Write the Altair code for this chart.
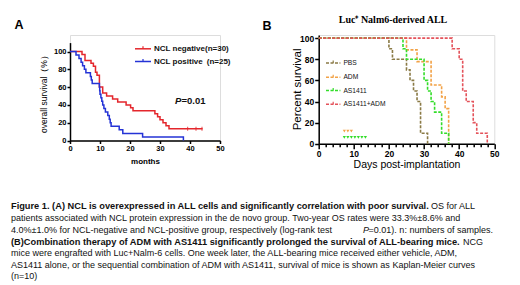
import altair as alt
import pandas as pd

FONT = "Liberation Sans"
SERIF = "Liberation Serif"

# ---------------- Panel A data (Kaplan-Meier, overall survival %) ----------------
neg_t = [0, 4, 5, 7, 7.8, 8.5, 9, 9.8, 10.9, 12.2, 14.2, 15.9, 18.7, 20.2, 21, 28.3, 29.2, 30, 31, 32, 33, 44.2]
neg_s = [100, 96.7, 90, 86.7, 83.3, 76.7, 73.3, 60, 53.3, 50, 46.7, 43.3, 40, 36.7, 33.3, 30, 26.7, 23.3, 20, 16.7, 13.3, 13.3]
pos_t = [0, 2, 3, 3.7, 4.2, 4.8, 5.3, 6.8, 7.1, 7.4, 9.8, 9.9, 10, 10.3, 10.6, 10.9, 11.3, 11.8, 12.6, 13.1, 13.4, 13.7, 16.4, 17.6, 24.2, 37.8]
pos_s = [100, 96, 92, 88, 84, 80, 76, 72, 68, 64, 60, 56, 52, 48, 44, 40, 36, 32, 28, 24, 20, 16, 12, 8, 4, 0]
neg_cens_t = [39.2, 42, 44]
neg_cens_s = [13.3, 13.3, 13.3]
groupsA = ["NCL negative", "NCL positive"]
labelsA = ["NCL negative(n=30)", "NCL positive\u2002(n=25)"]
colorsA = ["#e4262c", "#2433d6"]

# ---------------- Panel B data (percent survival) ----------------
pbs_t = [0, 20, 21, 25, 26, 27, 28, 29, 31]
pbs_s = [100, 90, 80, 70, 60, 50, 40, 10, 0]
adm_t = [0, 25, 28, 32, 35, 36, 37]
adm_s = [100, 88.9, 77.8, 55.6, 44.4, 33.3, 0]
as_t = [0, 24, 25, 30, 31, 32, 33, 35, 37]
as_s = [100, 90, 80, 60, 50, 40, 30, 10, 0]
combo_t = [0, 38, 40, 41, 42, 44, 45, 48]
combo_s = [100, 90, 80, 50, 40, 20, 10, 0]
adm_cens_t = [7.3, 8.3, 9.3]
adm_cens_s = [12, 12, 12]
as_cens_t = [7.3, 8.3, 9.3, 10.3, 11.3, 12.3, 13.3]
as_cens_s = [6, 6, 6, 6, 6, 6, 6]
groupsB = ["PBS", "ADM", "AS1411", "AS1411+ADM"]
colorsB = ["#8a7a45", "#f2a247", "#33dd2a", "#e4525a"]

title_B = "Luc\u207a Nalm6-derived ALL"
ytitle_B = "Percent survival"

caption_lines = [
    ("Figure 1. (A) NCL is overexpressed in ALL cells and significantly correlation with poor survival.", "OS for ALL"),
    "patients associated with NCL protein expression in the de novo group. Two-year OS rates were 33.3%\u00b18.6% and",
    ("4.0%\u00b11.0% for NCL-negative and NCL-positive group, respectively (log-rank test", "P", "=0.01). n: numbers of samples."),
    ("(B)Combination therapy of ADM with AS1411 significantly prolonged the survival of ALL-bearing mice.", "NCG"),
    "mice were engrafted  with Luc+Nalm-6 cells. One week later, the ALL-bearing mice received either vehicle, ADM,",
    "AS1411 alone, or the sequential combination of ADM with AS1411, survival of mice is shown as Kaplan-Meier curves",
    "(n=10)",
]

one = pd.DataFrame({"k": [0]})


def txt(x, y, s, size, weight="normal", style="normal", align="left", font=FONT, color="#111111", angle=0):
    return alt.Chart(one).mark_text(
        text=s, align=align, baseline="middle", fontSize=size, fontWeight=weight,
        fontStyle=style, font=font, color=color, angle=angle
    ).encode(x=alt.value(x), y=alt.value(y))


def legend_row(x0, x1, y, color, label, size, weight, dash=None, width=1.5):
    kw = dict(color=color, strokeWidth=width)
    if dash:
        kw["strokeDash"] = dash
    ln = alt.Chart(one).mark_rule(**kw).encode(x=alt.value(x0), x2=alt.value(x1), y=alt.value(y))
    xm = (x0 + x1) / 2
    tk = alt.Chart(one).mark_rule(color=color, strokeWidth=1.2).encode(
        x=alt.value(xm), y=alt.value(y - 2.5), y2=alt.value(y))
    tx = txt(x1 + 3, y, label, size, weight)
    return [ln, tk, tx]


# ---------------- Panel A ----------------
WA, HA, TOPA = 150, 105.5, 7.6
dfA = pd.DataFrame({
    "tA": neg_t + pos_t,
    "sA": neg_s + pos_s,
    "gA": [groupsA[0]] * len(neg_t) + [groupsA[1]] * len(pos_t),
})
dfAc = pd.DataFrame({"tA": neg_cens_t, "sA": neg_cens_s, "gA": [groupsA[0]] * len(neg_cens_t)})
colA = alt.Color("gA:N", scale=alt.Scale(domain=groupsA, range=colorsA), legend=None)
axA = dict(domainColor="black", domainWidth=1.5, tickColor="black", tickWidth=1.5, tickSize=3,
           labelFont=FONT, labelFontSize=7.5, labelFontWeight="bold", labelColor="black",
           labelPadding=1, grid=False, labelFlush=False, labelOverlap=False,
           titleFont=FONT, titleColor="black", titleBaseline="middle")
xA = alt.X("tA:Q", scale=alt.Scale(domain=[0, 50], nice=False),
           axis=alt.Axis(values=[0, 10, 20, 30, 40, 50], title="months", titleFontSize=8,
                         titleFontWeight="bold", titleY=21, **axA))
yA = alt.Y("sA:Q", scale=alt.Scale(domain=[0, 110], nice=False, range=[HA, TOPA]),
           axis=alt.Axis(values=[0, 20, 40, 60, 80, 100], title="overall survival\uff08%\uff09",
                         titleFontSize=8.5, titleFontWeight="normal", titleX=-27, **axA))
linesA = alt.Chart(dfA).mark_line(interpolate="step-after", strokeWidth=1.5).encode(x=xA, y=yA, color=colA)
censA = alt.Chart(dfAc).mark_tick(orient="vertical", size=4, thickness=1.2).encode(x=xA, y=yA, color=colA)

layersA = [linesA, censA]
layersA += legend_row(65, 81, 13.8, colorsA[0], labelsA[0], 8, "bold")
layersA += legend_row(65, 81, 26.5, colorsA[1], labelsA[1], 8, "bold")
layersA += [txt(105, 65.5, "P", 9.5, "bold", "italic"), txt(111.5, 65.5, "=0.01", 9.5, "bold")]
layersA += [txt(-51, -10, "A", 12.5, "bold", align="center", color="black")]

# caption (pixel positions relative to panel A group origin)
cx = -59
cy = [171, 182.5, 194.5, 206.5, 218, 229.5, 240.5]
CS, CB = 9, 9.25
layersA += [txt(cx, cy[0], caption_lines[0][0], CB, "bold"), txt(361, cy[0], caption_lines[0][1], CS)]
layersA += [txt(cx, cy[1], caption_lines[1], CS)]
layersA += [txt(cx, cy[2], caption_lines[2][0], CS), txt(293, cy[2], caption_lines[2][1], CS, style="italic"),
            txt(298.6, cy[2], caption_lines[2][2], CS)]
layersA += [txt(cx, cy[3], caption_lines[3][0], CB, "bold"), txt(393, cy[3], caption_lines[3][1], CS)]
layersA += [txt(cx, cy[4], caption_lines[4], CS)]
layersA += [txt(cx, cy[5], caption_lines[5], CS)]
layersA += [txt(cx, cy[6], caption_lines[6], CS)]

panelA = alt.layer(*layersA).properties(width=WA, height=HA)

# ---------------- Panel B ----------------
WB, HB = 175.6, 108.8
dfB = pd.DataFrame({
    "tB": pbs_t + adm_t + as_t + combo_t,
    "sB": pbs_s + adm_s + as_s + combo_s,
    "gB": [groupsB[0]] * len(pbs_t) + [groupsB[1]] * len(adm_t) + [groupsB[2]] * len(as_t) + [groupsB[3]] * len(combo_t),
})
dfBc = pd.DataFrame({
    "tB": adm_cens_t + as_cens_t,
    "sB": adm_cens_s + as_cens_s,
    "gB": [groupsB[1]] * len(adm_cens_t) + [groupsB[2]] * len(as_cens_t),
})
colB = alt.Color("gB:N", scale=alt.Scale(domain=groupsB, range=colorsB), legend=None)
axB = dict(domainColor="black", domainWidth=1.5, tickColor="black", tickWidth=1.5,
           labelFont=FONT, labelFontSize=8.5, labelFontWeight="bold", labelColor="black",
           labelPadding=1, grid=False, labelFlush=False, labelOverlap=False,
           titleFont=FONT, titleColor="black", titleBaseline="middle", titleFontWeight="normal")
xB = alt.X("tB:Q", scale=alt.Scale(domain=[0, 50], nice=False),
           axis=alt.Axis(values=list(range(0, 51, 2)),
                         labelExpr="datum.value % 10 === 0 ? datum.label : ''",
                         tickSize={"condition": {"test": "datum.value % 10 === 0", "value": 5}, "value": 3},
                         title="Days post-implantation", titleFontSize=10.5, titleY=21, **axB))
yB = alt.Y("sB:Q", scale=alt.Scale(domain=[0, 103], nice=False),
           axis=alt.Axis(values=[0, 20, 40, 60, 80, 100], tickSize=4, title=None, **axB))
linesB = alt.Chart(dfB).mark_line(interpolate="step-after", strokeWidth=1.6, strokeDash=[3, 1.5]).encode(
    x=xB, y=yB, color=colB)
censB = alt.Chart(dfBc).mark_point(shape="triangle-down", filled=True, size=10, opacity=1).encode(
    x=xB, y=yB, color=colB)

layersB = [linesB, censB]
for yy, c, lab in zip([28, 42.3, 55.5, 69.2], colorsB, groupsB):
    layersB += legend_row(7.3, 21.7, yy, c, lab, 6.7, "normal", dash=[3, 1.5])
layersB += [txt(74.3, -15.5, title_B, 10, "bold", font=SERIF, align="center", color="black")]
layersB += [txt(-51.7, -9.5, "B", 12.5, "bold", align="center", color="black")]
layersB += [txt(-21, HB / 2, ytitle_B, 11.5, align="center", color="black", angle=270)]

panelB = alt.layer(*layersB).properties(width=WB, height=HB)

chart = alt.hconcat(
    panelA, panelB, spacing=98.7, bounds="flush",
).resolve_scale(
    x="independent", y="independent", color="independent"
).properties(
    padding={"left": 2, "top": 6, "right": 0, "bottom": 0}
).configure_view(stroke=None).configure(background="white")

chart.save("out.html", embed_options={"renderer": "svg", "actions": False})
